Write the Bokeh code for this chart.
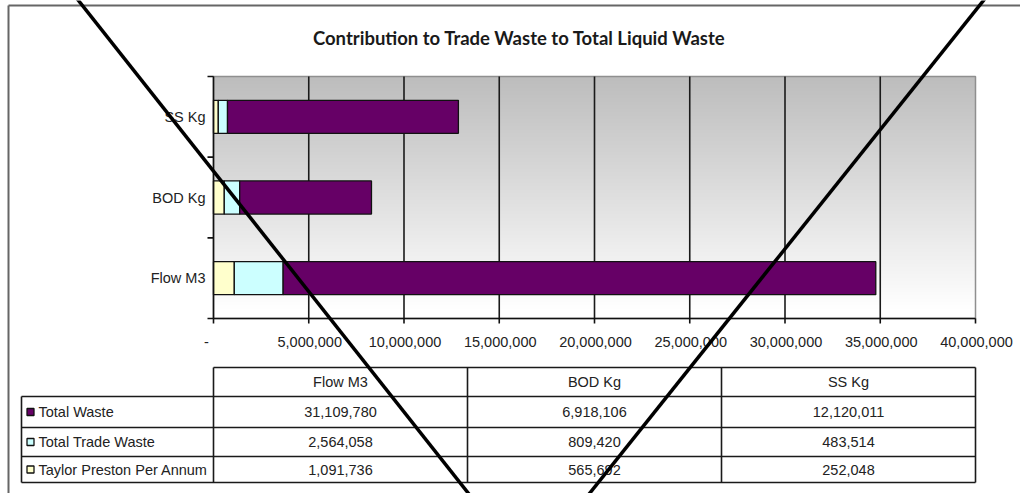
import numpy as np
from bokeh.plotting import figure
from bokeh.models import Range1d, ColumnDataSource
from bokeh.core.properties import value
from bokeh.embed import file_html
from bokeh.resources import INLINE

# ---------------- data ----------------
TITLE = "Contribution to Trade Waste to Total Liquid Waste"
CATEGORIES = ["Flow M3", "BOD Kg", "SS Kg"]
TAYLOR_PRESTON = [1091736, 565692, 252048]
TOTAL_TRADE_WASTE = [2564058, 809420, 483514]
TOTAL_WASTE = [31109780, 6918106, 12120011]
SERIES_NAMES = ["Total Waste", "Total Trade Waste", "Taylor Preston Per Annum"]
X_TICKS = [0, 5000000, 10000000, 15000000, 20000000, 25000000, 30000000, 35000000, 40000000]
X_TICK_LABELS = ["-", "5,000,000", "10,000,000", "15,000,000", "20,000,000",
                 "25,000,000", "30,000,000", "35,000,000", "40,000,000"]

COL_TAYLOR = "#FFFFCC"
COL_TRADE = "#CCFFFF"
COL_TOTAL = "#660066"

# ---------------- layout (canvas pixels) ----------------
W, H = 1020, 493
PL, PR, PT, PB = 213, 975, 76, 318
XMAX = X_TICKS[-1]
NCAT = len(CATEGORIES)
pw = PR - PL
ph = PB - PT

FONT = value("Liberation Sans")
FS = "14.5px"
TC = "#222222"

p = figure(width=W, height=H,
           x_range=Range1d(-PL / pw * XMAX, (W - PL) / pw * XMAX),
           y_range=Range1d((PB - H) / ph * NCAT, PB / ph * NCAT),
           output_backend="svg", toolbar_location=None, tools="",
           min_border=0, x_axis_location=None, y_axis_location=None)
p.extra_x_ranges = {"px": Range1d(0, W)}
p.extra_y_ranges = {"px": Range1d(H, 0)}
p.outline_line_color = None
p.grid.visible = False
p.background_fill_color = "white"
p.border_fill_color = "white"

# outer frame
p.segment(x0=[8, 8], y0=[5, 5], x1=[W, 8], y1=[5, H], x_range_name="px", y_range_name="px",
          line_color="#666666", line_width=2)

# title
p.text(x=[519], y=[37], text=[TITLE], x_range_name="px", y_range_name="px",
       text_font=value("Lato"), text_font_style="bold", text_font_size="18.5px",
       text_color="#1a1a1a", text_align="center", text_baseline="middle")

# gradient background of plot area
N = 240
t = np.linspace(0.0, 1.0, N)  # row 0 = bottom
g = np.clip(255 - 66 * np.clip((t - 0.04) / 0.96, 0, 1), 0, 255).astype(np.uint8)
img = np.empty((N, 1), dtype=np.uint32)
view = img.view(dtype=np.uint8).reshape((N, 1, 4))
view[:, 0, 0] = g
view[:, 0, 1] = g
view[:, 0, 2] = g
view[:, 0, 3] = 255
p.image_rgba(image=[img], x=0, y=0, dw=XMAX, dh=NCAT)

# plot area border
p.quad(left=[0], right=[XMAX], bottom=[0], top=[NCAT], fill_color=None,
       line_color="#8f8f8f", line_width=1.5)

# vertical grid lines
p.segment(x0=X_TICKS[1:-1], y0=0, x1=X_TICKS[1:-1], y1=NCAT,
          line_color="#1a1a1a", line_width=1.6)

# stacked bars
ys = [i + 0.5 for i in range(NCAT)]
cum = np.zeros(NCAT)
for vals, col in [(TAYLOR_PRESTON, COL_TAYLOR), (TOTAL_TRADE_WASTE, COL_TRADE), (TOTAL_WASTE, COL_TOTAL)]:
    v = np.array(vals, dtype=float)
    p.hbar(y=ys, left=cum, right=cum + v, height=0.41, fill_color=col,
           line_color="#111111", line_width=1.3)
    cum = cum + v

# axes
p.segment(x0=[0], y0=[0], x1=[0], y1=[NCAT], line_color="#111111", line_width=1.6)
p.segment(x0=[0], y0=[0], x1=[XMAX], y1=[0], line_color="#111111", line_width=1.6)
yt = list(range(NCAT + 1))
p.segment(x0=[PL - 6] * len(yt), y0=yt, x1=[PL] * len(yt), y1=yt, x_range_name="px",
          line_color="#111111", line_width=1.6)
p.segment(x0=X_TICKS, y0=[PB] * len(X_TICKS), x1=X_TICKS, y1=[PB + 5] * len(X_TICKS),
          y_range_name="px", line_color="#111111", line_width=1.6)

tick_src = ColumnDataSource(dict(x=X_TICKS, y=[PB + 23] * len(X_TICKS), text=X_TICK_LABELS,
                                 xoff=[-7] + [1] * (len(X_TICKS) - 1)))
p.text(x="x", y="y", text="text", x_offset="xoff", source=tick_src, y_range_name="px",
       text_font=FONT, text_font_size=FS, text_color=TC,
       text_align="center", text_baseline="middle")

p.text(x=[PL - 8] * NCAT, y=ys, text=CATEGORIES, x_range_name="px",
       text_font=FONT, text_font_size=FS, text_color=TC,
       text_align="right", text_baseline="middle")

# data table
TXE = [21, PL, PL + pw / 3, PL + 2 * pw / 3, PR]
TYE = [367, 396, 427, 456, 482]
lc = "#1a1a1a"
p.segment(x0=[PL] + [TXE[0]] * 4, y0=TYE, x1=[PR] * 5, y1=TYE,
          x_range_name="px", y_range_name="px", line_color=lc, line_width=1.6)
p.segment(x0=TXE, y0=[TYE[1]] + [TYE[0]] * 4, x1=TXE, y1=[TYE[-1]] * 5,
          x_range_name="px", y_range_name="px", line_color=lc, line_width=1.6)

col_cx = [(TXE[i + 1] + TXE[i + 2]) / 2 for i in range(NCAT)]
hy = (TYE[0] + TYE[1]) / 2
p.text(x=col_cx, y=[hy] * NCAT, text=CATEGORIES, x_range_name="px", y_range_name="px",
       text_font=FONT, text_font_size=FS, text_color=TC,
       text_align="center", text_baseline="middle")

row_vals = [TOTAL_WASTE, TOTAL_TRADE_WASTE, TAYLOR_PRESTON]
row_cols = [COL_TOTAL, COL_TRADE, COL_TAYLOR]
row_cy = [(TYE[i + 1] + TYE[i + 2]) / 2 for i in range(3)]
cx, cy, ct = [], [], []
for r, vals in enumerate(row_vals):
    for c, v in enumerate(vals):
        cx.append(col_cx[c])
        cy.append(row_cy[r])
        ct.append(f"{v:,}")
p.text(x=cx, y=cy, text=ct, x_range_name="px", y_range_name="px",
       text_font=FONT, text_font_size=FS, text_color=TC,
       text_align="center", text_baseline="middle")
p.scatter(x=[30] * 3, y=row_cy, marker="square", size=7, fill_color=row_cols,
          line_color="#111111", line_width=1.3, x_range_name="px", y_range_name="px")
p.text(x=[38] * 3, y=row_cy, text=SERIES_NAMES, x_range_name="px", y_range_name="px",
       text_font=FONT, text_font_size=FS, text_color=TC,
       text_align="left", text_baseline="middle")

# the big cross drawn over the picture
p.segment(x0=[74, 987], y0=[-5, -5], x1=[472, 585], y1=[498, 498],
          x_range_name="px", y_range_name="px", line_color="black", line_width=3.5)

open("out.html", "w").write(file_html(p, INLINE))
